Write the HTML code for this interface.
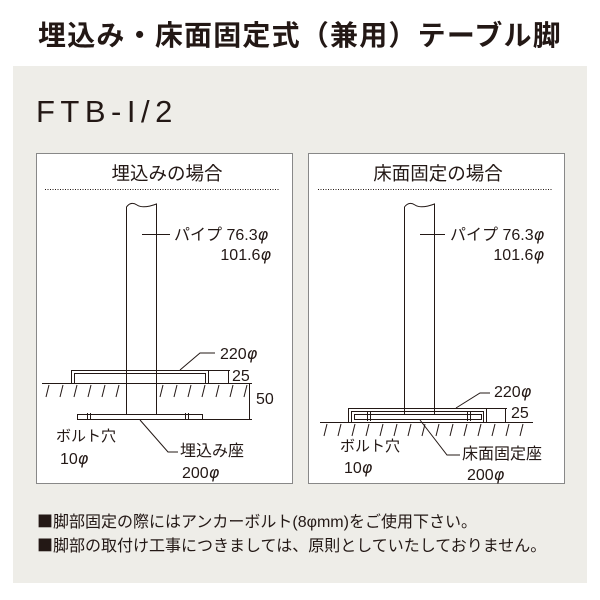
<!DOCTYPE html>
<html><head><meta charset="utf-8"><style>
body{margin:0;width:600px;height:600px;background:#fff;overflow:hidden}
svg{display:block}
text{font-family:"Liberation Sans","Noto Sans CJK JP",sans-serif;fill:#231815}
tspan.p{font-style:italic;font-family:"DejaVu Sans",sans-serif}
tspan.s{font-family:"Noto Sans CJK JP",sans-serif}
</style></head><body>
<svg width="600" height="600" viewBox="0 0 600 600">
<text x="300" y="45" text-anchor="middle" font-size="28" font-weight="bold" letter-spacing="1.2">埋込み・床面固定式（兼用）テーブル脚</text>
<rect x="13" y="66" width="574" height="517" fill="#eeede8"/>
<text x="36" y="122" font-size="31" letter-spacing="5.5">FTB-I/2</text>
<text x="37" y="527" font-size="16"><tspan class="s">■</tspan>脚部固定の際にはアンカーボルト(8φmm)をご使用下さい。</text>
<text x="37" y="551" font-size="16"><tspan class="s">■</tspan>脚部の取付け工事につきましては、原則としていたしておりません。</text>

<g stroke="#231815" fill="none" stroke-width="1">
<rect x="36.5" y="153.5" width="256" height="330" fill="#fff" stroke="#888"/>
<line x1="45" y1="189.5" x2="280" y2="189.5" stroke-dasharray="1,1.5"/>
<path d="M126.5 414V207 Q131 201 137 205 T156.5 204 V414"/>
<line x1="142" y1="234.5" x2="170" y2="234.5"/>
<path d="M71.5 383V370.5H208.5V383M74.5 383V373.5H205.5V383"/>
<path d="M208 370.5H230M228.5 370.5V383"/>
<line x1="42" y1="383.5" x2="252" y2="383.5"/>
<path d="M46 397l3-12M60 397l3-12M74 397l3-12M88 397l3-12M102 397l3-12M116 397l3-12M160 397l3-12M174 397l3-12M188 397l3-12M202 397l3-12M216 397l3-12M230 397l3-12M244 397l3-12"/>
<path d="M249.5 383V419M202 419.5H252"/>
<rect x="77.5" y="414.5" width="125" height="5" fill="#fff"/>
<path d="M87.5 413v7M90.5 413v7M185.5 413v7M188.5 413v7"/>
<path d="M180 370L200 353H215"/>
<path d="M140 420L168 452H178"/>
<rect x="308.5" y="153.5" width="256" height="330" fill="#fff" stroke="#888"/>
<line x1="318" y1="189.5" x2="553" y2="189.5" stroke-dasharray="1,1.5"/>
<path d="M404.5 414V207 Q409 201 415 205 T434.5 204 V414"/>
<line x1="420" y1="234.5" x2="445" y2="234.5"/>
<path d="M348.5 422V408.5H486.5V422M351.5 422V411.5H483.5V422"/>
<rect x="354.5" y="414.5" width="127" height="5"/>
<path d="M367.5 412v9M370.5 412v9M467.5 412v9M470.5 412v9"/>
<path d="M486 408.5H507M505.5 408.5V422"/>
<line x1="320" y1="422.5" x2="533" y2="422.5"/>
<path d="M324 436l3-12M338 436l3-12M352 436l3-12M366 436l3-12M380 436l3-12M394 436l3-12M408 436l3-12M422 436l3-12M436 436l3-12M450 436l3-12M464 436l3-12M478 436l3-12M492 436l3-12M506 436l3-12M520 436l3-12"/>
<path d="M456 408L480 393H490"/>
<path d="M420 420L447 455H460"/>
</g>
<g font-size="16">
<text x="167" y="180" text-anchor="middle" font-size="18.5">埋込みの場合</text>
<text x="174" y="240">パイプ 76.3<tspan class="p">φ</tspan></text>
<text x="271" y="260" text-anchor="end">101.6<tspan class="p">φ</tspan></text>
<text x="220" y="359">220<tspan class="p">φ</tspan></text>
<text x="232" y="381">25</text>
<text x="256" y="404">50</text>
<text x="56" y="441" font-size="15">ボルト穴</text>
<text x="60" y="464">10<tspan class="p">φ</tspan></text>
<text x="180" y="456">埋込み座</text>
<text x="182" y="478">200<tspan class="p">φ</tspan></text>
<text x="438" y="180" text-anchor="middle" font-size="18.5">床面固定の場合</text>
<text x="450" y="240">パイプ 76.3<tspan class="p">φ</tspan></text>
<text x="544" y="260" text-anchor="end">101.6<tspan class="p">φ</tspan></text>
<text x="494" y="397">220<tspan class="p">φ</tspan></text>
<text x="511" y="418">25</text>
<text x="340" y="451" font-size="15">ボルト穴</text>
<text x="344" y="473">10<tspan class="p">φ</tspan></text>
<text x="462" y="459">床面固定座</text>
<text x="467" y="480">200<tspan class="p">φ</tspan></text>
</g>
</svg>
</body></html>
